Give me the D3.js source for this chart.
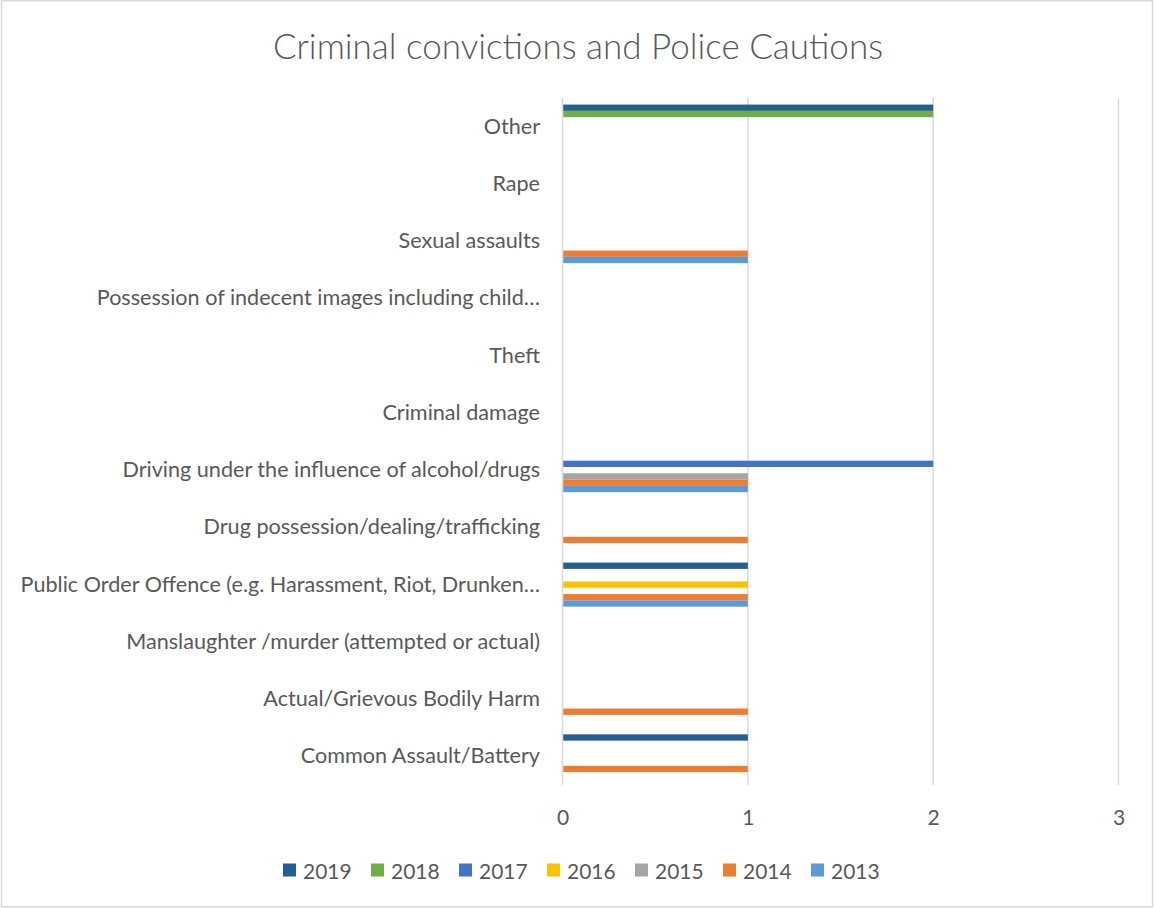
<!DOCTYPE html>
<html>
<head>
<meta charset="utf-8">
<script src="https://cdn.jsdelivr.net/npm/d3@7"></script>
<style>
  html, body { margin: 0; padding: 0; background: #fff; }
  svg { display: block; }
  text { font-family: Lato, "Open Sans", sans-serif; fill: #595959; }
</style>
</head>
<body>
<svg id="chart" width="1154" height="908"></svg>
<script>
// ---- Data (categories listed top to bottom as shown) ----
const categories = [
  "Other",
  "Rape",
  "Sexual assaults",
  "Possession of indecent images including child\u2026",
  "Theft",
  "Criminal damage",
  "Driving under the influence of alcohol/drugs",
  "Drug possession/dealing/trafficking",
  "Public Order Offence (e.g. Harassment, Riot, Drunken\u2026",
  "Manslaughter /murder (attempted or actual)",
  "Actual/Grievous Bodily Harm",
  "Common Assault/Battery"
];
const seriesNames = ["2019", "2018", "2017", "2016", "2015", "2014", "2013"];
const v2019 = [2, 0, 0, 0, 0, 0, 0, 0, 1, 0, 0, 1];
const v2018 = [2, 0, 0, 0, 0, 0, 0, 0, 0, 0, 0, 0];
const v2017 = [0, 0, 0, 0, 0, 0, 2, 0, 0, 0, 0, 0];
const v2016 = [0, 0, 0, 0, 0, 0, 0, 0, 1, 0, 0, 0];
const v2015 = [0, 0, 0, 0, 0, 0, 1, 0, 0, 0, 0, 0];
const v2014 = [0, 0, 1, 0, 0, 0, 1, 1, 1, 0, 1, 1];
const v2013 = [0, 0, 1, 0, 0, 0, 1, 0, 1, 0, 0, 0];
const xTicks = [0, 1, 2, 3];
const title = "Criminal convictions and Police Cautions";

const seriesValues = [v2019, v2018, v2017, v2016, v2015, v2014, v2013];
const colors = ["#255e91", "#70ad47", "#4472c4", "#ffc000", "#a5a5a5", "#ed7d31", "#5b9bd5"];

// ---- Layout ----
const W = 1154, H = 908;
const plot = { left: 562.5, right: 1118.5, top: 98, bottom: 785 };

const svg = d3.select("#chart");

// Chart border
svg.append("rect")
  .attr("x", 1.5).attr("y", 0.75)
  .attr("width", W - 3).attr("height", H - 2)
  .attr("fill", "#fff")
  .attr("stroke", "#d9d9d9").attr("stroke-width", 1.5);

// Title
svg.append("text")
  .attr("x", 578).attr("y", 45)
  .attr("text-anchor", "middle")
  .attr("dominant-baseline", "central")
  .style("font-size", "35px")
  .style("font-weight", 300)
  .text(title);

// Scales
const x = d3.scaleLinear().domain([0, 3]).range([plot.left, plot.right]);
const y0 = d3.scaleBand().domain(categories).range([plot.top, plot.bottom]).paddingInner(0).paddingOuter(0);
const bw = y0.bandwidth();
const gapFrac = 0.115;
const y1 = d3.scaleBand().domain(seriesNames).range([bw * gapFrac, bw * (1 - gapFrac)]).padding(0);

// Gridlines
svg.append("g").selectAll("line")
  .data(xTicks).join("line")
  .attr("x1", d => x(d)).attr("x2", d => x(d))
  .attr("y1", plot.top).attr("y2", plot.bottom)
  .attr("stroke", "#d9d9d9").attr("stroke-width", 1.5);

// Bars
const rows = [];
seriesNames.forEach((s, si) => {
  categories.forEach((c, ci) => {
    rows.push({ series: s, cat: c, value: seriesValues[si][ci], color: colors[si] });
  });
});
svg.append("g").selectAll("rect")
  .data(rows.filter(d => d.value > 0)).join("rect")
  .attr("x", x(0) + 0.75)
  .attr("y", d => y0(d.cat) + y1(d.series))
  .attr("width", d => x(d.value) - x(0) - 0.75)
  .attr("height", y1.bandwidth())
  .attr("fill", d => d.color);

// Category labels (y axis)
const yAxis = d3.axisLeft(y0).tickSize(0).tickPadding(0);
const yg = svg.append("g").attr("transform", `translate(${540},0)`).call(yAxis);
yg.select(".domain").remove();
yg.selectAll("text")
  .style("font-size", "21.6px")
  .style("font-family", "Lato, 'Open Sans', sans-serif")
  .attr("fill", "#595959");

// X axis tick labels
const xAxis = d3.axisBottom(x).tickValues(xTicks).tickSize(0).tickPadding(0).tickFormat(d3.format("d"));
const xg = svg.append("g").attr("transform", `translate(0,${810})`).call(xAxis);
xg.select(".domain").remove();
xg.selectAll("text")
  .style("font-size", "21px")
  .style("font-family", "Lato, 'Open Sans', sans-serif")
  .attr("fill", "#595959");

// Legend
const legendStartX = 283, legendY = 870, legendStep = 88;
const lg = svg.append("g").selectAll("g")
  .data(seriesNames).join("g")
  .attr("transform", (d, i) => `translate(${legendStartX + i * legendStep},${legendY})`);
lg.append("rect")
  .attr("x", 0).attr("y", -6.5)
  .attr("width", 13).attr("height", 13)
  .attr("fill", (d, i) => colors[i]);
lg.append("text")
  .attr("x", 20).attr("y", 0)
  .attr("dominant-baseline", "central")
  .style("font-size", "21px")
  .text(d => d);
</script>
</body>
</html>
